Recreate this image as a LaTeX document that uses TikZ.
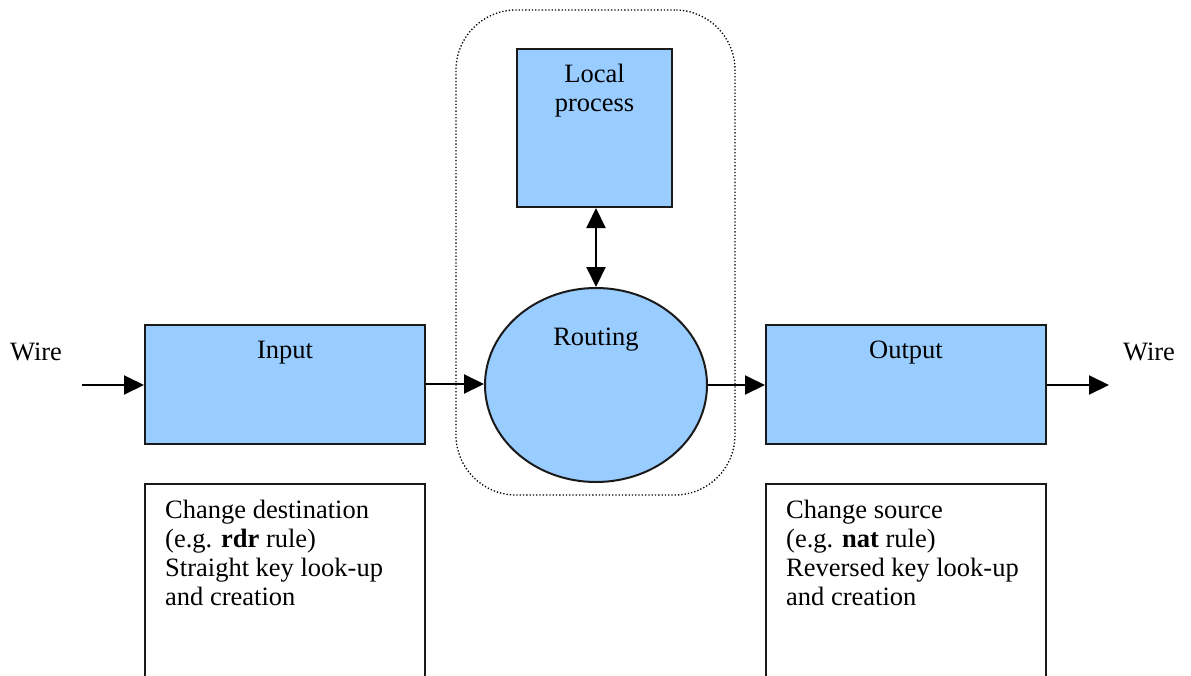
\documentclass[tikz,border=0pt]{standalone}
\usepackage{fontspec}
\setmainfont{Liberation Serif}
\usetikzlibrary{shapes.geometric,arrows.meta}
\definecolor{boxblue}{HTML}{99CCFF}
\definecolor{edge}{HTML}{1A1A1A}
\begin{document}
\begin{tikzpicture}[x=1pt,y=-1pt,
  every node/.style={font=\fontsize{26.5}{29}\selectfont},
  bluebox/.style={draw=edge,line width=2pt,fill=boxblue,rectangle,inner sep=0pt},
  notebox/.style={draw=edge,line width=2pt,fill=white,rectangle,inner sep=0pt},
  conn/.style={line width=2pt,-{Triangle[length=20pt,width=19pt]}},
  txt/.style={inner sep=0pt,align=center},
]
\useasboundingbox (0,0) rectangle (1191,675);
\clip (0,0) rectangle (1191,675);
% dotted enclosure
\node[draw,dotted,line width=1.3pt,rounded corners=60pt,minimum width=279pt,minimum height=485pt,inner sep=0pt] (encl) at (595.5,252.5) {};
% local process
\node[bluebox,minimum width=155pt,minimum height=158pt] (lp) at (594.5,128) {};
\node[txt,anchor=north] (lpt) at (594.5,64) {Local\\process};
% routing
\node[draw=edge,line width=2pt,fill=boxblue,ellipse,minimum width=222pt,minimum height=194pt,inner sep=0pt] (rt) at (596,385) {};
\node[txt] (rtt) at (596,340) {Routing};
% input / output
\node[bluebox,minimum width=280pt,minimum height=119pt] (in) at (285,384.5) {};
\node[txt] (int) at (285,353) {Input};
\node[bluebox,minimum width=280pt,minimum height=119pt] (out) at (906,384.5) {};
\node[txt] (outt) at (906,353) {Output};
% wires
\node[txt] (wl) at (36,352) {Wire};
\node[txt] (wr) at (1149,352) {Wire};
\coordinate (wls) at (82,385);
\coordinate (wre) at (1109,385);
% notes
\node[notebox,minimum width=280pt,minimum height=300pt,anchor=north] (nl) at (285,483) {};
\node[notebox,minimum width=280pt,minimum height=300pt,anchor=north] (nr) at (906,483) {};
\node[inner sep=0pt,align=left,anchor=north west] (nlt) at (165,500)
  {Change destination\\(e.g. \textbf{rdr} rule)\\Straight key look-up\\and creation};
\node[inner sep=0pt,align=left,anchor=north west] (nrt) at (786,500)
  {Change source\\(e.g. \textbf{nat} rule)\\Reversed key look-up\\and creation};
% connectors
\draw[conn] (wls) -- (in.west|-wls);
\draw[conn] (in.east|-0,384) -- (rt.west|-0,384);
\draw[conn] (rt.east|-0,385) -- (out.west|-0,385);
\draw[conn] (out.east|-wre) -- (wre);
\draw[line width=2pt,{Triangle[length=20pt,width=19pt]}-{Triangle[length=20pt,width=19pt]}] (lp.south-|rt.north) -- (rt.north);
\end{tikzpicture}
\end{document}
